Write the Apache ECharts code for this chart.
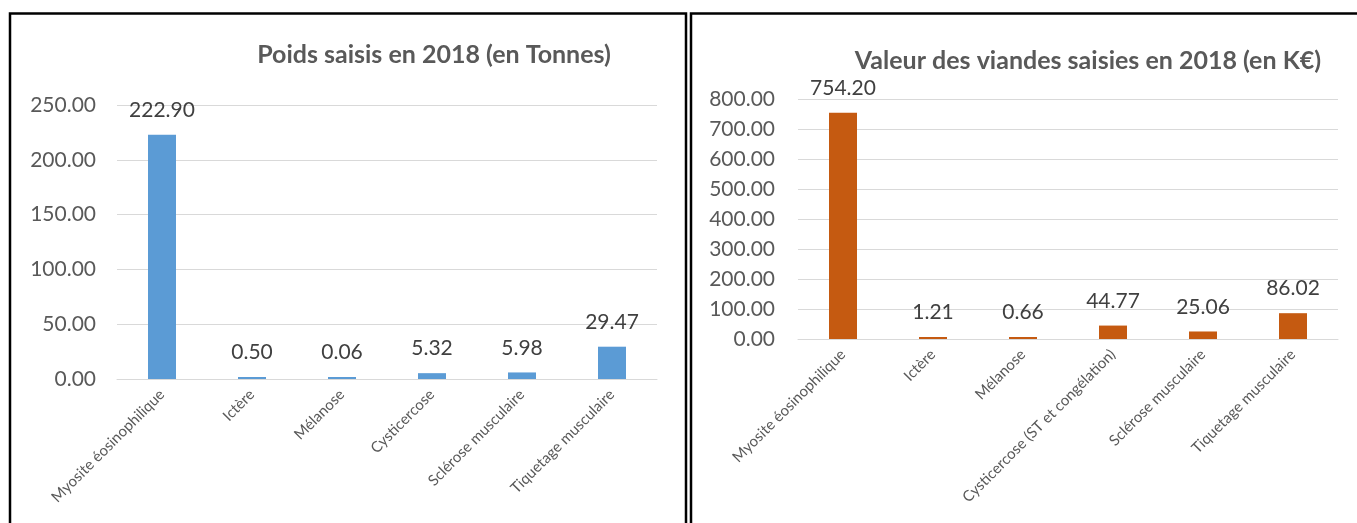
<!DOCTYPE html>
<html>
<head>
<meta charset="utf-8">
<script src="https://cdn.jsdelivr.net/npm/echarts@6/dist/echarts.min.js"></script>
<style>
html,body{margin:0;padding:0;background:#fff;}
#c{width:1357px;height:523px;}
</style>
</head>
<body>
<div id="c"></div>
<script>
// ---- data ----
const titlePoids = 'Poids saisis en 2018 (en Tonnes)';
const titleValeur = 'Valeur des viandes saisies en 2018 (en K€)';
const categoriesPoids = ['Myosite éosinophilique', 'Ictère', 'Mélanose', 'Cysticercose', 'Sclérose musculaire', 'Tiquetage musculaire'];
const valuesPoids = [222.90, 0.50, 0.06, 5.32, 5.98, 29.47];
const categoriesValeur = ['Myosite éosinophilique', 'Ictère', 'Mélanose', 'Cysticercose (ST et congélation)', 'Sclérose musculaire', 'Tiquetage musculaire'];
const valuesValeur = [754.20, 1.21, 0.66, 44.77, 25.06, 86.02];
const axisPoids = { min: 0, max: 250, interval: 50 };
const axisValeur = { min: 0, max: 800, interval: 100 };

const FONT = 'Lato, "Open Sans", sans-serif';
const fmt = v => Number(v).toFixed(2);

const chart = echarts.init(document.getElementById('c'), null, { renderer: 'canvas' });

function xAxis(gridIndex, cats) {
  return {
    type: 'category', gridIndex, data: cats,
    axisLine: { show: true, lineStyle: { color: '#D9D9D9', width: 1 } },
    axisTick: { show: false },
    axisLabel: { rotate: 45, margin: 13, color: '#595959', fontFamily: FONT, fontSize: 15, interval: 0 }
  };
}
function yAxis(gridIndex, ax, margin) {
  return {
    type: 'value', gridIndex, min: ax.min, max: ax.max, interval: ax.interval,
    axisLine: { show: false }, axisTick: { show: false },
    splitLine: { lineStyle: { color: '#D9D9D9', width: 1 } },
    axisLabel: { formatter: fmt, color: '#595959', fontFamily: FONT, fontSize: 21, margin }
  };
}
function bar(idx, data, color) {
  return {
    type: 'bar', xAxisIndex: idx, yAxisIndex: idx, data,
    barWidth: 28, barMinHeight: 2,
    itemStyle: { color },
    label: { show: true, position: 'top', distance: 14, formatter: p => fmt(p.value),
      color: '#404040', fontFamily: FONT, fontSize: 21 },
    silent: true, animation: false
  };
}

chart.setOption({
  animation: false,
  backgroundColor: '#fff',
  title: [
    { text: titlePoids, left: 429, top: 37, textAlign: 'center',
      textStyle: { fontFamily: FONT, fontSize: 25, fontWeight: 'bold', color: '#595959' } },
    { text: titleValeur, left: 1083, top: 43, textAlign: 'center',
      textStyle: { fontFamily: FONT, fontSize: 25, fontWeight: 'bold', color: '#595959' } }
  ],
  grid: [
    { left: 117, top: 105, width: 540, height: 274 },
    { left: 798, top: 99, width: 540, height: 240 }
  ],
  xAxis: [xAxis(0, categoriesPoids), xAxis(1, categoriesValeur)],
  yAxis: [yAxis(0, axisPoids, 21), yAxis(1, axisValeur, 23)],
  series: [bar(0, valuesPoids, '#5B9BD5'), bar(1, valuesValeur, '#C55A11')],
  graphic: [
    { type: 'rect', shape: { x: 10, y: 13.5, width: 676, height: 600 },
      style: { fill: 'none', stroke: '#000', lineWidth: 2.5 }, silent: true },
    { type: 'rect', shape: { x: 691, y: 13.5, width: 700, height: 600 },
      style: { fill: 'none', stroke: '#000', lineWidth: 2.5 }, silent: true }
  ]
});
</script>
</body>
</html>
